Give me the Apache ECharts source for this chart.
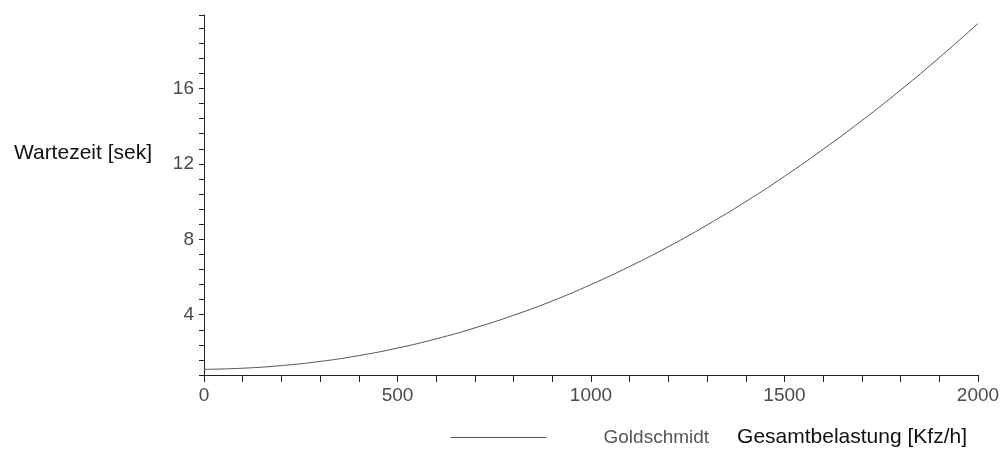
<!DOCTYPE html>
<html>
<head>
<meta charset="utf-8">
<script src="https://cdn.jsdelivr.net/npm/echarts@6/dist/echarts.min.js"></script>
<style>html,body{margin:0;padding:0;background:#fff;}#c{width:1003px;height:450px;}</style>
</head>
<body>
<div id="c"></div>
<script>
const loadKfz = [0,100,200,300,400,500,600,700,800,900,1000,1100,1200,1300,1400,1500,1600,1700,1800,1900,2000];
const waitSek = [1.1,1.16,1.3,1.52,1.83,2.23,2.72,3.3,3.97,4.73,5.6,6.56,7.61,8.76,10.0,11.34,12.78,14.3,15.92,17.64,19.45];
const xLabelValues = [0,500,1000,1500,2000];
const yLabelValues = [4,8,12,16];
const seriesName = 'Goldschmidt';
const xName = 'Gesamtbelastung [Kfz/h]';
const yName = 'Wartezeit [sek]';

const FONT = "'Liberation Sans', Arial, sans-serif";
const chart = echarts.init(document.getElementById('c'));
chart.setOption({
  backgroundColor: '#ffffff',
  animation: false,
  grid: { left: 204, right: 25, top: 15, bottom: 75 },
  legend: {
    left: 445, top: 423,
    itemWidth: 96, itemHeight: 14,
    itemStyle: { opacity: 0 },
    lineStyle: { color: '#555', width: 1 },
    textStyle: { fontFamily: FONT, fontSize: 19, color: '#555', padding: [0,0,0,52] },
    data: [seriesName]
  },
  xAxis: {
    type: 'value', min: 0, max: 2000, interval: 100,
    name: xName, nameLocation: 'end', nameGap: -11,
    nameTextStyle: { fontFamily: FONT, fontSize: 21, color: '#111', align: 'right', verticalAlign: 'top', padding: [52,0,0,0] },
    axisLine: { onZero: false, lineStyle: { color: '#222', width: 1 } },
    axisTick: { show: true, length: 7, lineStyle: { color: '#222' } },
    splitLine: { show: false },
    axisLabel: {
      margin: 11, fontFamily: FONT, fontSize: 19, color: '#4a4a4a',
      formatter: v => xLabelValues.includes(Math.round(v)) && Math.abs(v - Math.round(v)) < 1e-6 ? String(Math.round(v)) : ''
    }
  },
  yAxis: {
    type: 'value', min: 0.8, max: 19.9, interval: 0.8,
    name: yName, nameLocation: 'middle', nameRotate: 0, nameGap: 52,
    nameTextStyle: { fontFamily: FONT, fontSize: 21, color: '#111', align: 'right', verticalAlign: 'bottom', padding: [0,0,31,0] },
    axisLine: { show: true, onZero: false, lineStyle: { color: '#222', width: 1 } },
    axisTick: { show: true, length: 5, lineStyle: { color: '#222' } },
    splitLine: { show: false },
    axisLabel: {
      margin: 10, fontFamily: FONT, fontSize: 19, color: '#4a4a4a',
      formatter: v => { const r = Math.round(v); return (Math.abs(v - r) < 1e-6 && yLabelValues.includes(r)) ? String(r) : ''; }
    }
  },
  series: [{
    name: seriesName, type: 'line', smooth: true, symbol: 'none',
    lineStyle: { color: '#555', width: 1 },
    itemStyle: { color: '#555' },
    data: loadKfz.map((x, i) => [x, waitSek[i]])
  }]
});
</script>
</body>
</html>
